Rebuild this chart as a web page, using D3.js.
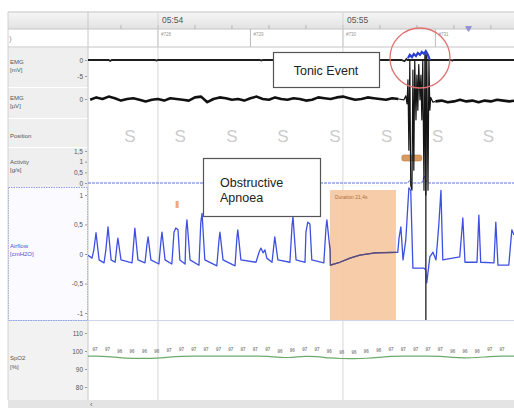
<!DOCTYPE html>
<html>
<head>
<meta charset="utf-8">
<script src="https://cdn.jsdelivr.net/npm/d3@7"></script>
<style>
  body { margin: 0; background: #fff; }
  svg { display: block; font-family: "Liberation Sans", Arial, sans-serif; }
</style>
</head>
<body>
<div id="container"></div>
<script>
// ---- data (time in seconds from 05:54:00) ----
let epochLabels = ["#728", "#729", "#730", "#731"];
let epochStarts = [0, 30, 60, 90];

let positionTimes = [-9.1, 7.2, 24, 40.5, 57.4, 74.2, 90.7, 107.2];
let positionValues = ["S", "S", "S", "S", "S", "S", "S", "S"];

let emgMV = [[-22.7,0],[-16,0],[-15.5,-0.3],[-15,0],[-1,0],[-0.5,-0.2],[0,0],[33,0],[33.5,-0.2],[34,0],
  [79,0],[80,-0.4],[80.6,0.3],[81,0],[88.5,0],[95,0],[95.5,-0.2],[96,0],[115.5,0]];
let emgMVBurst = [[81.1,0.6],[81.7,1.6],[82.4,0.9],[83.0,1.9],[83.7,1.25],[84.3,2.2],[85.0,1.6],
  [85.6,2.5],[86.3,1.9],[86.9,2.8],[87.6,1.6],[88.2,0]];

let emgUVStart = -22;
let emgUVBefore = [-1, 2, 0, 3, 1, -2, 0, 1, -1, -3, -1, 0, -2, 1, 0, -1, -2, 2, 3, -4, 0, 2, 1, -1, 0,
  -2, 1, 3, 0, -1, 2, 0, -1, 1, 0, -2, -1, 2, 1, 0, 2, 3, 1, -1, 0, 2, 1, 0, -1, 1, 0];
let emgUVBurst = [[78,0],[79.8,-1],[80.4,4],[80.8,-6],[81.1,24],[81.4,-64],[81.7,49],[82.0,-108],[82.4,-114],
  [82.7,36],[83.0,-89],[83.3,49],[83.7,-26],[84.0,30],[84.3,-14],[84.6,43],[85.0,-1],[85.3,30],
  [85.6,-26],[85.9,49],[86.3,-114],[86.6,55],[86.9,-120],[87.2,55],[87.6,-114],[87.9,49],[88.2,-14],
  [88.5,2],[89.2,-4],[90,-3]];
let emgUVAfterStart = 90;
let emgUVAfter = [-3, -2, -4, -3, -1, -3, -2, -4, -2, -3, -1, -2, -3, -2];

let activity = [[-22.7,0],[81,0],[81.6,0.12],[82.2,0],[85.6,0],[86.4,0.33],[87.2,0.04],[88,0],[115.5,0]];

let airflow = [[-22.7,-0.02],[-21.4,-0.07],[-20.8,0.07],[-20.1,0.36],[-19.1,-0.1],[-17.5,-0.15],
  [-16.9,0.07],[-16.2,0.46],[-15.2,-0.1],[-13.9,-0.14],[-13.3,0.15],[-13.0,0.27],[-12.0,-0.1],
  [-8.4,-0.15],[-7.8,0.24],[-7.5,0.44],[-6.5,-0.1],[-4.2,-0.15],[-3.6,0.15],[-3.2,0.29],[-2.3,-0.1],
  [0.3,-0.17],[1.0,0.24],[1.3,0.37],[2.3,-0.1],[4.5,-0.17],[5.2,0.37],[5.8,0.44],[6.5,0.41],[7.1,-0.1],
  [8.8,-0.17],[9.1,0.41],[9.4,0.58],[10.4,-0.1],[13.3,-0.19],[13.9,0.54],[14.3,0.69],[15.2,-0.1],
  [19.1,-0.2],[19.8,0.24],[20.1,0.37],[21.1,-0.1],[25.0,-0.2],[25.6,0.27],[25.9,0.41],[26.9,-0.1],
  [31.8,-0.14],[32.8,0.03],[33.4,0.1],[34.1,0.02],[34.7,0.07],[35.3,-0.07],[37.0,-0.14],[37.6,0.15],
  [37.9,0.29],[38.9,-0.1],[42.8,-0.14],[43.5,0.49],[43.8,0.63],[44.8,-0.1],[47.7,-0.14],[48.0,0.37],
  [48.6,0.54],[49.3,0.51],[49.9,-0.1],[53.8,-0.15],[54.5,0.44],[54.8,0.58],[55.8,0.07],[55.9,-0.19],
  [59.0,-0.14],[62.3,-0.07],[65.5,-0.02],[70.4,0.02],[77.8,0.03],[78.2,0.27],[78.8,0.46],[79.5,-0.1],
  [80.4,0.24],[81.4,1.12],[82.0,1.08],[82.7,-0.24],[86.3,-0.24],[86.9,-0.27],[87.2,-0.49],[88.2,-0.05],
  [89.2,0.03],[90.2,-0.1],[91.1,0.49],[91.8,1.08],[92.4,-0.1],[97.9,-0.05],[98.6,0.41],[98.9,0.61],
  [99.6,-0.14],[103.5,-0.14],[104.1,0.66],[104.7,-0.14],[109.0,-0.15],[109.6,0.54],[110.3,-0.19],
  [113.8,-0.19],[114.8,0.41],[115.5,0.32]];

let spo2Start = -20.4;
let spo2Step = 4;
let spo2 = [97.2, 97.0, 96.2, 95.9, 95.9, 96.0, 96.6, 97.1, 97.2, 97.2, 97.2, 97.2, 97.2, 97.1, 97.2,
  96.3, 96.4, 97.1, 97.0, 96.0, 95.8, 95.8, 95.9, 96.4, 97.1, 97.2, 97.2, 97.2, 97.1, 96.3, 96.2,
  96.3, 97.0, 97.2];

let apnoeaStart = 55.8, apnoeaDuration = 21.4;
let arousalStart = 79.1, arousalEnd = 85.6;
let smallMarkTime = 6.2;
let tonicTime = 85.0;
let cursorTime = 86.9;

// ---- layout ----
let w = 514, h = 408;
let plotLeft = 88, plotRight = 514;

let viz = d3.select("#container").append("svg")
  .attr("width", w).attr("height", h);

let base = new Date(2000, 0, 1, 5, 54, 0);
function T(s){ return new Date(base.getTime() + s * 1000); }

let xScale = d3.scaleTime().domain([T(-22.7), T(115.5)]).range([plotLeft, plotRight]);
let emgMVScale = d3.scaleLinear().domain([-5, 0]).range([76, 60]);
let emgUVScale = d3.scaleLinear().domain([-40, 40]).range([131, 67]);
let activityScale = d3.scaleLinear().domain([0, 1.5]).range([183, 151]);
let airflowScale = d3.scaleLinear().domain([-1, 1]).range([313, 195]);
let spo2Scale = d3.scaleLinear().domain([80, 110]).range([387, 333]);

let defs = viz.append("defs");
let grad = defs.append("linearGradient").attr("id", "hdr").attr("x1", 0).attr("x2", 0).attr("y1", 0).attr("y2", 1);
grad.append("stop").attr("offset", "0%").attr("stop-color", "#f6f6f6");
grad.append("stop").attr("offset", "100%").attr("stop-color", "#e2e2e2");
defs.append("clipPath").attr("id", "plotclip")
  .append("rect").attr("x", plotLeft).attr("y", 0).attr("width", plotRight - plotLeft).attr("height", h);
defs.append("clipPath").attr("id", "apnoeaclip")
  .append("rect")
    .attr("x", xScale(T(apnoeaStart))).attr("y", 188)
    .attr("width", xScale(T(apnoeaStart + apnoeaDuration)) - xScale(T(apnoeaStart)))
    .attr("height", 132);

// header
viz.append("rect").attr("x", 8).attr("y", 12).attr("width", w - 8).attr("height", 17).attr("fill", "url(#hdr)");
viz.append("rect").attr("x", 8).attr("y", 29).attr("width", w - 8).attr("height", 18).attr("fill", "#fff");
[12, 29, 47].forEach(function(y){
  viz.append("line").attr("x1", 8).attr("x2", w).attr("y1", y).attr("y2", y)
    .attr("stroke", "#c4c4c4").attr("stroke-width", 1);
});
viz.append("text").attr("x", 9).attr("y", 41).attr("font-size", 8).attr("fill", "#999").text(")");

// left label panel
let panels = [
  {y: 48, h: 39, fill: "#efefef"},
  {y: 88, h: 30, fill: "#efefef"},
  {y: 119, h: 28, fill: "#efefef"},
  {y: 148, h: 39, fill: "#efefef"},
  {y: 188, h: 132, fill: "#fbfbff"},
  {y: 321, h: 79, fill: "#f2f2f2"}
];
viz.selectAll(".panel").data(panels).enter().append("rect")
  .attr("class", "panel")
  .attr("x", 8).attr("y", d => d.y).attr("width", 80).attr("height", d => d.h)
  .attr("fill", d => d.fill);
viz.append("rect").attr("x", 8.5).attr("y", 187.5).attr("width", 79).attr("height", 133)
  .attr("fill", "none").attr("stroke", "#8d9ee6").attr("stroke-width", 1).attr("stroke-dasharray", "1.5,1");
viz.append("line").attr("x1", 8).attr("x2", w).attr("y1", 320.5).attr("y2", 320.5)
  .attr("stroke", "#9aa8e0").attr("stroke-width", 0.8).attr("opacity", 0.6);
viz.append("line").attr("x1", 88).attr("x2", 88).attr("y1", 12).attr("y2", 400)
  .attr("stroke", "#c8c8c8");
viz.append("line").attr("x1", 8).attr("x2", 8).attr("y1", 12).attr("y2", 400)
  .attr("stroke", "#d0d0d0");

let labels = [
  {t: "EMG", y: 64}, {t: "[mV]", y: 72},
  {t: "EMG", y: 100}, {t: "[µV]", y: 108},
  {t: "Position", y: 138},
  {t: "Activity", y: 164}, {t: "[g/s]", y: 172},
  {t: "Airflow", y: 248, c: "#3b55d8"}, {t: "[cmH2O]", y: 256, c: "#3b55d8"},
  {t: "SpO2", y: 360}, {t: "[%]", y: 369}
];
viz.selectAll(".lbl").data(labels).enter().append("text")
  .attr("class", "lbl")
  .attr("x", 10).attr("y", d => d.y)
  .attr("font-size", 6).attr("fill", d => d.c || "#555")
  .text(d => d.t);

// y axes in the label panel
function comma(d){ return String(d).replace(".", ","); }
function drawAxis(scale, values){
  let g = viz.append("g").attr("transform", "translate(87,0)")
    .call(d3.axisLeft(scale).tickValues(values).tickSize(2).tickPadding(2).tickFormat(comma));
  g.select(".domain").remove();
  g.selectAll("text").attr("font-size", 6.5).attr("fill", "#555").attr("font-family", "Liberation Sans, Arial");
  g.selectAll("line").attr("stroke", "#999");
}
drawAxis(emgMVScale, [0, -5]);
drawAxis(emgUVScale, [0]);
drawAxis(activityScale, [0, 0.5, 1, 1.5]);
drawAxis(airflowScale, [1, 0.5, 0, -0.5, -1]);
drawAxis(spo2Scale, [110, 100, 90, 80]);

// time header
let minuteTicks = xScale.ticks(d3.timeMinute.every(1));
let minorTicks = xScale.ticks(d3.timeSecond.every(12));
viz.selectAll(".minor").data(minorTicks).enter().append("line")
  .attr("x1", d => xScale(d)).attr("x2", d => xScale(d))
  .attr("y1", 25).attr("y2", 29).attr("stroke", "#b5b5b5");
viz.selectAll(".mlab").data(minuteTicks).enter().append("text")
  .attr("x", d => xScale(d) + 4).attr("y", 23)
  .attr("font-size", 8.5).attr("fill", "#555")
  .text(d3.timeFormat("%H:%M"));
viz.selectAll(".epoch").data(epochStarts).enter().append("line")
  .attr("x1", d => xScale(T(d))).attr("x2", d => xScale(T(d)))
  .attr("y1", 29).attr("y2", 47).attr("stroke", "#bdbdbd");
viz.selectAll(".elab").data(epochStarts).enter().append("text")
  .attr("x", d => xScale(T(d)) + 3).attr("y", 36)
  .attr("font-size", 4.5).attr("fill", "#999")
  .text((d, i) => epochLabels[i]);
viz.append("path")
  .attr("d", "M465,26 L472,26 L470,30 L468.5,32 L467,30 Z")
  .attr("fill", "#8080d0").attr("opacity", 0.8);

// minute grid lines
viz.selectAll(".grid").data(minuteTicks).enter().append("line")
  .attr("x1", d => xScale(d)).attr("x2", d => xScale(d))
  .attr("y1", 12).attr("y2", 400).attr("stroke", "#d6d6d6");

let plot = viz.append("g").attr("clip-path", "url(#plotclip)");

// apnoea event
plot.append("rect")
  .attr("x", xScale(T(apnoeaStart))).attr("y", 190)
  .attr("width", xScale(T(apnoeaStart + apnoeaDuration)) - xScale(T(apnoeaStart)))
  .attr("height", 130)
  .attr("fill", "#f5c8a2").attr("opacity", 0.93);
plot.append("text")
  .attr("x", xScale(T(apnoeaStart)) + 5).attr("y", 199)
  .attr("font-size", 5).attr("fill", "#b0703a")
  .text("Duration " + comma(apnoeaDuration) + "s");

// position
plot.selectAll(".pos").data(positionTimes).enter().append("text")
  .attr("x", d => xScale(T(d))).attr("y", 142)
  .attr("text-anchor", "middle").attr("font-size", 17).attr("fill", "#cccccc")
  .text((d, i) => positionValues[i]);

// activity
let lineMaker = function(scale){
  return d3.line().x(d => xScale(T(d[0]))).y(d => scale(d[1]));
};
plot.append("path").datum(activity)
  .attr("d", lineMaker(activityScale))
  .attr("fill", "none").attr("stroke", "#5b6ee0").attr("stroke-width", 1)
  .attr("stroke-dasharray", "3,1");

// arousal + small event marks
plot.append("rect")
  .attr("x", xScale(T(arousalStart))).attr("y", 155)
  .attr("width", xScale(T(arousalEnd)) - xScale(T(arousalStart))).attr("height", 6)
  .attr("rx", 2).attr("fill", "#d99a62").attr("stroke", "#b77a48").attr("stroke-width", 0.6);
plot.append("rect")
  .attr("x", xScale(T(smallMarkTime)) - 1.5).attr("y", 201)
  .attr("width", 3).attr("height", 7).attr("fill", "#f2a584");

// airflow
plot.append("path").datum(airflow)
  .attr("d", lineMaker(airflowScale))
  .attr("fill", "none").attr("stroke", "#3e50e2").attr("stroke-width", 1.3)
  .attr("stroke-linejoin", "round");
plot.append("path").datum(airflow)
  .attr("clip-path", "url(#apnoeaclip)")
  .attr("d", lineMaker(airflowScale))
  .attr("fill", "none").attr("stroke", "#5e4d68").attr("stroke-width", 1.3);

// spo2
let spo2Points = spo2.map((v, i) => [spo2Start + i * spo2Step, v]);
let spo2Line = [[-22.7, spo2[0]]].concat(spo2Points).concat([[115.5, spo2[spo2.length - 1]]]);
plot.append("path").datum(spo2Line)
  .attr("d", lineMaker(spo2Scale).curve(d3.curveBasis))
  .attr("fill", "none").attr("stroke", "#6caa6c").attr("stroke-width", 1.2);
plot.selectAll(".sat").data(spo2Points).enter().append("text")
  .attr("x", d => xScale(T(d[0]))).attr("y", d => spo2Scale(d[1]) - 5)
  .attr("text-anchor", "middle").attr("font-size", 4.5).attr("font-weight", "bold")
  .attr("fill", "#8c8c8c")
  .text(d => d3.format(".0f")(d[1]));

// cursor
plot.append("line")
  .attr("x1", xScale(T(cursorTime))).attr("x2", xScale(T(cursorTime)))
  .attr("y1", 53).attr("y2", 320)
  .attr("stroke", "#3c3c3c").attr("stroke-width", 1.5);

// EMG traces
plot.append("path").datum(emgMV)
  .attr("d", lineMaker(emgMVScale))
  .attr("fill", "none").attr("stroke", "#1e1e1e").attr("stroke-width", 1.8);
let emgUVBase = emgUVBefore.map((v, i) => [emgUVStart + i * 2, v]);
let emgUVTail = emgUVAfter.map((v, i) => [emgUVAfterStart + i * 2, v]);
[emgUVBase, emgUVTail].forEach(function(part){
  plot.append("path").datum(part)
    .attr("d", lineMaker(emgUVScale))
    .attr("fill", "none").attr("stroke", "#111").attr("stroke-width", 2.6)
    .attr("stroke-linejoin", "round");
});
plot.append("path").datum(emgUVBurst)
  .attr("d", lineMaker(emgUVScale))
  .attr("fill", "none").attr("stroke", "#151515").attr("stroke-width", 1.2)
  .attr("stroke-linejoin", "round");
plot.append("path").datum(emgMVBurst)
  .attr("d", lineMaker(emgMVScale))
  .attr("fill", "none").attr("stroke", "#2a3fd0").attr("stroke-width", 2.2);

// annotations
viz.append("circle")
  .attr("cx", xScale(T(tonicTime))).attr("cy", 58).attr("r", 30)
  .attr("fill", "none").attr("stroke", "#e07272").attr("stroke-width", 1.3);

viz.append("rect").attr("x", 273.5).attr("y", 52.5).attr("width", 106).attr("height", 35)
  .attr("fill", "#fff").attr("stroke", "#555").attr("stroke-width", 1.2);
viz.append("text").attr("x", 326).attr("y", 75).attr("text-anchor", "middle")
  .attr("font-size", 12.5).attr("fill", "#222").text("Tonic Event");

viz.append("rect").attr("x", 203.5).attr("y", 158.5).attr("width", 117).attr("height", 58)
  .attr("fill", "#fff").attr("stroke", "#555").attr("stroke-width", 1.2);
viz.append("text").attr("x", 220).attr("y", 187)
  .attr("font-size", 12.5).attr("fill", "#222").text("Obstructive");
viz.append("text").attr("x", 220).attr("y", 202)
  .attr("font-size", 12.5).attr("fill", "#222").text("Apnoea");

// bottom scroll bar
viz.append("rect").attr("x", 8).attr("y", 400).attr("width", w - 8).attr("height", 8).attr("fill", "#e4e4e4");
viz.append("text").attr("x", 90).attr("y", 407).attr("font-size", 8).attr("fill", "#666").text("‹");
</script>
</body>
</html>
